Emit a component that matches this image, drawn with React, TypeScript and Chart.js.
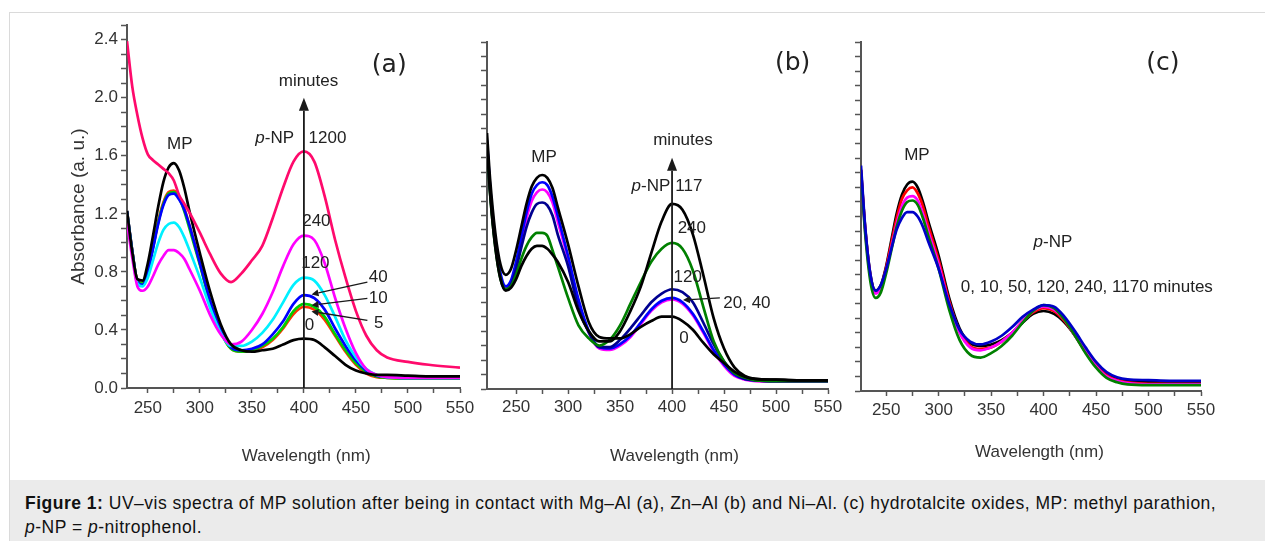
import React, { useEffect, useRef } from 'react';
import { Chart, registerables } from 'chart.js';

Chart.register(...registerables);

const FONT = "'Liberation Sans', Arial, Helvetica, sans-serif";
const LABEL_FONT = "'DejaVu Sans', 'Open Sans', sans-serif";

// ---------- Panel (a): Mg–Al ----------
const WL_A = [230, 235, 240, 245, 250, 255, 260, 265, 270, 275, 280, 285, 290, 300, 310, 320, 330, 340, 350, 360, 370, 380, 390, 400, 410, 420, 430, 440, 450, 460, 470, 480, 500, 520, 550];
const A_0MIN = [1.22, 0.94, 0.75, 0.74, 0.86, 1.05, 1.25, 1.42, 1.52, 1.55, 1.50, 1.38, 1.22, 0.93, 0.66, 0.44, 0.30, 0.26, 0.25, 0.26, 0.27, 0.30, 0.33, 0.34, 0.33, 0.28, 0.22, 0.16, 0.12, 0.10, 0.09, 0.09, 0.085, 0.08, 0.08];
const A_5MIN = [1.22, 0.95, 0.74, 0.72, 0.81, 0.97, 1.15, 1.28, 1.35, 1.36, 1.32, 1.24, 1.12, 0.86, 0.59, 0.39, 0.27, 0.25, 0.26, 0.28, 0.33, 0.41, 0.51, 0.56, 0.54, 0.47, 0.36, 0.25, 0.16, 0.10, 0.075, 0.07, 0.065, 0.065, 0.065];
const A_10MIN = [1.22, 0.95, 0.74, 0.72, 0.81, 0.97, 1.14, 1.27, 1.34, 1.35, 1.31, 1.22, 1.10, 0.85, 0.59, 0.39, 0.27, 0.25, 0.26, 0.29, 0.34, 0.42, 0.53, 0.58, 0.56, 0.49, 0.37, 0.26, 0.17, 0.11, 0.08, 0.07, 0.065, 0.065, 0.065];
const A_40MIN = [1.22, 0.95, 0.73, 0.71, 0.80, 0.96, 1.13, 1.26, 1.33, 1.34, 1.30, 1.23, 1.12, 0.86, 0.60, 0.40, 0.28, 0.26, 0.27, 0.30, 0.37, 0.46, 0.58, 0.64, 0.62, 0.54, 0.41, 0.29, 0.19, 0.12, 0.085, 0.075, 0.07, 0.07, 0.07];
const A_120MIN = [1.20, 0.93, 0.72, 0.70, 0.76, 0.88, 1.00, 1.09, 1.13, 1.14, 1.11, 1.04, 0.95, 0.76, 0.55, 0.38, 0.29, 0.29, 0.32, 0.38, 0.47, 0.59, 0.71, 0.76, 0.74, 0.64, 0.49, 0.33, 0.21, 0.13, 0.09, 0.075, 0.07, 0.07, 0.07];
const A_240MIN = [1.14, 0.90, 0.70, 0.67, 0.70, 0.77, 0.85, 0.91, 0.95, 0.95, 0.93, 0.89, 0.82, 0.67, 0.50, 0.37, 0.30, 0.32, 0.40, 0.51, 0.66, 0.84, 0.99, 1.05, 1.02, 0.86, 0.62, 0.41, 0.24, 0.13, 0.09, 0.075, 0.07, 0.07, 0.07];
const A_1200MIN = [2.39, 2.08, 1.88, 1.72, 1.61, 1.57, 1.54, 1.51, 1.48, 1.43, 1.33, 1.27, 1.21, 1.07, 0.92, 0.79, 0.73, 0.79, 0.88, 0.98, 1.17, 1.38, 1.56, 1.63, 1.56, 1.32, 1.02, 0.76, 0.53, 0.36, 0.26, 0.21, 0.18, 0.16, 0.14];

// ---------- Panel (b): Zn–Al ----------
const WL_B = [222, 225, 230, 235, 240, 245, 250, 255, 260, 265, 270, 275, 280, 285, 290, 300, 310, 320, 330, 340, 350, 360, 370, 380, 390, 400, 410, 420, 430, 440, 450, 460, 470, 480, 500, 520, 550];
const B_0MIN = [1.77, 1.45, 1.08, 0.86, 0.79, 0.83, 0.96, 1.12, 1.28, 1.40, 1.46, 1.48, 1.46, 1.39, 1.26, 1.00, 0.71, 0.46, 0.36, 0.35, 0.35, 0.38, 0.43, 0.47, 0.50, 0.50, 0.47, 0.41, 0.32, 0.24, 0.18, 0.12, 0.085, 0.07, 0.065, 0.06, 0.06];
const B_20MIN = [1.72, 1.40, 1.03, 0.80, 0.71, 0.75, 0.88, 1.05, 1.22, 1.35, 1.41, 1.43, 1.41, 1.33, 1.20, 0.92, 0.62, 0.40, 0.29, 0.28, 0.31, 0.37, 0.46, 0.55, 0.61, 0.63, 0.60, 0.52, 0.40, 0.27, 0.17, 0.10, 0.07, 0.06, 0.055, 0.055, 0.055];
const B_40MIN = [1.70, 1.38, 1.01, 0.78, 0.70, 0.73, 0.86, 1.02, 1.18, 1.30, 1.36, 1.38, 1.36, 1.29, 1.16, 0.90, 0.60, 0.39, 0.28, 0.27, 0.30, 0.36, 0.45, 0.54, 0.60, 0.62, 0.59, 0.51, 0.39, 0.26, 0.16, 0.09, 0.065, 0.055, 0.05, 0.05, 0.05];
const B_120MIN = [1.70, 1.37, 1.00, 0.77, 0.69, 0.72, 0.83, 0.98, 1.12, 1.22, 1.28, 1.29, 1.27, 1.20, 1.07, 0.85, 0.56, 0.39, 0.29, 0.29, 0.34, 0.42, 0.51, 0.60, 0.66, 0.69, 0.67, 0.60, 0.46, 0.31, 0.19, 0.11, 0.07, 0.06, 0.055, 0.055, 0.055];
const B_240MIN = [1.68, 1.35, 0.98, 0.76, 0.69, 0.71, 0.79, 0.90, 0.99, 1.05, 1.08, 1.08, 1.06, 0.96, 0.85, 0.63, 0.44, 0.35, 0.30, 0.34, 0.44, 0.59, 0.74, 0.88, 0.97, 1.01, 0.97, 0.82, 0.57, 0.33, 0.19, 0.11, 0.08, 0.06, 0.055, 0.055, 0.055];
const B_1170MIN = [1.68, 1.35, 0.98, 0.76, 0.68, 0.70, 0.76, 0.85, 0.92, 0.97, 0.99, 0.99, 0.97, 0.93, 0.88, 0.74, 0.54, 0.40, 0.33, 0.33, 0.40, 0.54, 0.71, 0.94, 1.16, 1.28, 1.24, 1.07, 0.79, 0.49, 0.28, 0.15, 0.09, 0.07, 0.065, 0.06, 0.06];

// ---------- Panel (c): Ni–Al ----------
const WL_C = [226, 230, 235, 240, 245, 250, 255, 260, 265, 270, 275, 280, 285, 290, 300, 310, 320, 330, 340, 350, 360, 370, 380, 390, 400, 410, 420, 430, 440, 450, 460, 470, 480, 500, 520, 550];
const C_0MIN = [1.52, 1.12, 0.80, 0.69, 0.73, 0.86, 1.04, 1.22, 1.35, 1.42, 1.44, 1.40, 1.30, 1.17, 0.93, 0.64, 0.43, 0.33, 0.31, 0.32, 0.35, 0.40, 0.47, 0.53, 0.55, 0.53, 0.47, 0.38, 0.27, 0.18, 0.12, 0.085, 0.07, 0.06, 0.06, 0.055];
const C_10MIN = [1.52, 1.12, 0.79, 0.68, 0.72, 0.85, 1.02, 1.19, 1.32, 1.38, 1.40, 1.36, 1.27, 1.14, 0.90, 0.62, 0.41, 0.31, 0.29, 0.30, 0.34, 0.40, 0.48, 0.54, 0.57, 0.55, 0.48, 0.38, 0.27, 0.18, 0.11, 0.075, 0.06, 0.05, 0.05, 0.05];
const C_50MIN = [1.50, 1.10, 0.78, 0.67, 0.71, 0.83, 0.99, 1.15, 1.27, 1.33, 1.34, 1.31, 1.22, 1.10, 0.87, 0.60, 0.40, 0.30, 0.28, 0.30, 0.34, 0.40, 0.48, 0.55, 0.58, 0.56, 0.49, 0.38, 0.27, 0.17, 0.10, 0.07, 0.055, 0.045, 0.045, 0.045];
const C_120MIN = [1.50, 1.08, 0.75, 0.64, 0.68, 0.81, 0.97, 1.13, 1.24, 1.30, 1.31, 1.28, 1.19, 1.07, 0.84, 0.56, 0.35, 0.25, 0.23, 0.26, 0.31, 0.38, 0.47, 0.55, 0.59, 0.57, 0.49, 0.38, 0.26, 0.16, 0.09, 0.06, 0.045, 0.04, 0.04, 0.04];
const C_1170MIN = [1.55, 1.13, 0.80, 0.69, 0.73, 0.84, 0.98, 1.11, 1.19, 1.23, 1.23, 1.20, 1.13, 1.03, 0.84, 0.60, 0.42, 0.34, 0.32, 0.34, 0.38, 0.44, 0.51, 0.56, 0.59, 0.58, 0.51, 0.41, 0.30, 0.20, 0.13, 0.095, 0.08, 0.075, 0.07, 0.07];

// ---------- Axes ----------
const X_TICKS = [250, 275, 300, 325, 350, 375, 400, 425, 450, 475, 500, 525, 550];
const X_LABELS = ['250', '300', '350', '400', '450', '500', '550'];
const Y_TICKS_A = [0, 0.1, 0.2, 0.3, 0.4, 0.5, 0.6, 0.7, 0.8, 0.9, 1.0, 1.1, 1.2, 1.3, 1.4, 1.5, 1.6, 1.7, 1.8, 1.9, 2.0, 2.1, 2.2, 2.3, 2.4, 2.5];
const Y_TICKS_BC = [0, 0.1, 0.2, 0.3, 0.4, 0.5, 0.6, 0.7, 0.8, 0.9, 1.0, 1.1, 1.2, 1.3, 1.4, 1.5, 1.6, 1.7, 1.8, 1.9, 2.0, 2.1, 2.2, 2.3, 2.4];
const Y_LABELS_A = ['0.0', '0.4', '0.8', '1.2', '1.6', '2.0', '2.4'];

type Seg = { t: string; it?: boolean };
type Note = { x: number; y: number; segs: Seg[]; size?: number; family?: string };
type Arrow = { x1: number; y1: number; x2: number; y2: number; head: number; hw: number; lw: number };

function annotate(notes: Note[], arrows: Arrow[]) {
  return {
    id: 'figNotes',
    afterDatasetsDraw(chart: any) {
      const ctx = chart.ctx;
      const sx = chart.scales.x;
      const sy = chart.scales.y;
      ctx.save();
      ctx.fillStyle = '#1a1a1a';
      ctx.strokeStyle = '#1a1a1a';
      for (const a of arrows) {
        const x1 = sx.getPixelForValue(a.x1), y1 = sy.getPixelForValue(a.y1);
        const x2 = sx.getPixelForValue(a.x2), y2 = sy.getPixelForValue(a.y2);
        const ang = Math.atan2(y2 - y1, x2 - x1);
        const bx = x2 - Math.cos(ang) * a.head, by = y2 - Math.sin(ang) * a.head;
        ctx.lineWidth = a.lw;
        ctx.beginPath();
        ctx.moveTo(x1, y1);
        ctx.lineTo(bx, by);
        ctx.stroke();
        ctx.beginPath();
        ctx.moveTo(x2, y2);
        ctx.lineTo(bx + Math.sin(ang) * a.hw, by - Math.cos(ang) * a.hw);
        ctx.lineTo(bx - Math.sin(ang) * a.hw, by + Math.cos(ang) * a.hw);
        ctx.closePath();
        ctx.fill();
      }
      ctx.textBaseline = 'middle';
      ctx.textAlign = 'left';
      ctx.fillStyle = '#222';
      for (const n of notes) {
        const size = n.size ?? 17;
        const fam = n.family ?? FONT;
        const fonts = n.segs.map((s) => `${s.it ? 'italic ' : ''}${size}px ${fam}`);
        let w = 0;
        const ws = n.segs.map((s, i) => {
          ctx.font = fonts[i];
          const m = ctx.measureText(s.t).width;
          w += m;
          return m;
        });
        let x = sx.getPixelForValue(n.x) - w / 2;
        const y = sy.getPixelForValue(n.y);
        n.segs.forEach((s, i) => {
          ctx.font = fonts[i];
          ctx.fillText(s.t, x, y);
          x += ws[i];
        });
      }
      ctx.restore();
    },
  };
}

type PanelCfg = {
  wl: number[];
  series: { label: string; data: number[]; color: string }[];
  xMin: number;
  yMax: number;
  yTicks: number[];
  yLabels: string[];
  yTitle?: string;
  xTitle: string;
  yWidth: number;
  xHeight: number;
  pad: { left: number; right: number; top: number; bottom: number };
  xTickPad: number;
  xTitlePad: number;
  notes: Note[];
  arrows: Arrow[];
};

function build(canvas: HTMLCanvasElement, p: PanelCfg) {
  const tickFont = { family: FONT, size: 17 };
  return new Chart(canvas, {
    type: 'line',
    data: {
      datasets: p.series.map((s) => ({
        label: s.label,
        data: p.wl.map((x, i) => ({ x, y: s.data[i] })),
        borderColor: s.color,
        backgroundColor: s.color,
        borderWidth: 2.7,
        pointRadius: 0,
        cubicInterpolationMode: 'monotone' as const,
        fill: false,
      })),
    },
    options: {
      responsive: false,
      animation: false,
      devicePixelRatio: 1,
      events: [],
      layout: { padding: p.pad },
      plugins: { legend: { display: false }, tooltip: { enabled: false } },
      scales: {
        x: {
          type: 'linear',
          min: p.xMin,
          max: 550,
          afterBuildTicks: (s: any) => {
            s.ticks = X_TICKS.map((v) => ({ value: v }));
          },
          afterFit: (s: any) => {
            s.height = p.xHeight;
          },
          grid: { display: true, drawOnChartArea: false, drawTicks: true, tickLength: 5, tickColor: '#555', tickWidth: 1.5 },
          border: { display: true, color: '#555', width: 2 },
          ticks: {
            autoSkip: false,
            maxRotation: 0,
            padding: p.xTickPad,
            color: '#333',
            font: tickFont,
            callback: (v: any) => (X_LABELS.includes(String(v)) ? String(v) : ''),
          },
          title: {
            display: true,
            text: p.xTitle,
            color: '#333',
            font: { family: FONT, size: 17 },
            padding: { top: 0, bottom: p.xTitlePad },
          },
        },
        y: {
          type: 'linear',
          min: 0,
          max: p.yMax,
          afterBuildTicks: (s: any) => {
            s.ticks = p.yTicks.map((v) => ({ value: v }));
          },
          afterFit: (s: any) => {
            s.width = p.yWidth;
          },
          grid: { display: true, drawOnChartArea: false, drawTicks: true, tickLength: 6, tickColor: '#555', tickWidth: 1.5 },
          border: { display: true, color: '#555', width: 2 },
          ticks: {
            autoSkip: false,
            padding: 3,
            color: '#333',
            font: tickFont,
            callback: (v: any) => {
              const t = Number(v).toFixed(1);
              return p.yLabels.includes(t) ? t : '';
            },
          },
          title: {
            display: !!p.yTitle,
            text: p.yTitle ?? '',
            color: '#333',
            font: { family: FONT, size: 19 },
            padding: { top: 47, bottom: 0 },
          },
        },
      },
    },
    plugins: [annotate(p.notes, p.arrows)],
  } as any);
}

const PANEL_A: PanelCfg = {
  wl: WL_A,
  series: [
    { label: '1200 min', data: A_1200MIN, color: '#ff0a6c' },
    { label: '0 min', data: A_0MIN, color: '#000000' },
    { label: '240 min', data: A_240MIN, color: '#ff00ff' },
    { label: '120 min', data: A_120MIN, color: '#00f0ff' },
    { label: '40 min', data: A_40MIN, color: '#0000ff' },
    { label: '10 min', data: A_10MIN, color: '#00d000' },
    { label: '5 min', data: A_5MIN, color: '#ff3300' },
  ],
  xMin: 230,
  yMax: 2.5,
  yTicks: Y_TICKS_A,
  yLabels: Y_LABELS_A,
  yTitle: 'Absorbance (a. u.)',
  xTitle: '\u2002\u2002\u2002Wavelength (nm)',
  yWidth: 107,
  xHeight: 92,
  pad: { left: 0, right: 30, top: 12, bottom: 0 },
  xTickPad: 5,
  xTitlePad: 13,
  notes: [
    { x: 482, y: 2.22, segs: [{ t: '(a)' }], size: 25, family: LABEL_FONT },
    { x: 280.8, y: 1.68, segs: [{ t: 'MP' }] },
    { x: 404.4, y: 2.11, segs: [{ t: 'minutes' }] },
    { x: 371.9, y: 1.72, segs: [{ t: 'p', it: true }, { t: '-NP' }] },
    { x: 422.7, y: 1.72, segs: [{ t: '1200' }] },
    { x: 412, y: 1.15, segs: [{ t: '240' }] },
    { x: 411, y: 0.86, segs: [{ t: '120' }] },
    { x: 471.5, y: 0.76, segs: [{ t: '40' }] },
    { x: 471.5, y: 0.62, segs: [{ t: '10' }] },
    { x: 472, y: 0.445, segs: [{ t: '5' }] },
    { x: 405.4, y: 0.43, segs: [{ t: '0' }] },
  ],
  arrows: [
    { x1: 400, y1: 0, x2: 400, y2: 2.0, head: 13, hw: 5, lw: 1.8 },
    { x1: 461, y1: 0.73, x2: 407.3, y2: 0.645, head: 7, hw: 3.5, lw: 1.3 },
    { x1: 461, y1: 0.617, x2: 407.3, y2: 0.57, head: 7, hw: 3.5, lw: 1.3 },
    { x1: 461, y1: 0.466, x2: 407.3, y2: 0.528, head: 7, hw: 3.5, lw: 1.3 },
  ],
};

const PANEL_B: PanelCfg = {
  wl: WL_B,
  series: [
    { label: '1170 min', data: B_1170MIN, color: '#000000' },
    { label: '0 min', data: B_0MIN, color: '#000000' },
    { label: '240 min', data: B_240MIN, color: '#008000' },
    { label: '120 min', data: B_120MIN, color: '#000090' },
    { label: '20 min', data: B_20MIN, color: '#0000ff' },
    { label: '40 min', data: B_40MIN, color: '#ff00ff' },
  ],
  xMin: 222,
  yMax: 2.4,
  yTicks: Y_TICKS_BC,
  yLabels: [],
  xTitle: '\u2002\u2002\u2002\u2002Wavelength (nm)',
  yWidth: 7,
  xHeight: 91,
  pad: { left: 0, right: 22, top: 30, bottom: 0 },
  xTickPad: 3,
  xTitlePad: 13,
  notes: [
    { x: 516, y: 2.25, segs: [{ t: '(b)' }], size: 25, family: LABEL_FONT },
    { x: 276.8, y: 1.6, segs: [{ t: 'MP' }] },
    { x: 410.5, y: 1.72, segs: [{ t: 'minutes' }] },
    { x: 379.7, y: 1.4, segs: [{ t: 'p', it: true }, { t: '-NP' }] },
    { x: 416.2, y: 1.4, segs: [{ t: '117' }] },
    { x: 419, y: 1.11, segs: [{ t: '240' }] },
    { x: 415, y: 0.775, segs: [{ t: '120' }] },
    { x: 472, y: 0.595, segs: [{ t: '20, 40' }] },
    { x: 411.4, y: 0.353, segs: [{ t: '0' }] },
  ],
  arrows: [
    { x1: 400, y1: 0, x2: 400, y2: 1.6, head: 13, hw: 5, lw: 1.8 },
    { x1: 446, y1: 0.63, x2: 410.5, y2: 0.615, head: 7, hw: 3.5, lw: 1.3 },
  ],
};

const PANEL_C: PanelCfg = {
  wl: WL_C,
  series: [
    { label: '1170 min', data: C_1170MIN, color: '#0000c8' },
    { label: '120 min', data: C_120MIN, color: '#008000' },
    { label: '50 min', data: C_50MIN, color: '#ff00ff' },
    { label: '10 min', data: C_10MIN, color: '#ff0000' },
    { label: '0 min', data: C_0MIN, color: '#000000' },
  ],
  xMin: 226,
  yMax: 2.4,
  yTicks: Y_TICKS_BC,
  yLabels: [],
  xTitle: '\u2002\u2002Wavelength (nm)',
  yWidth: 11,
  xHeight: 89,
  pad: { left: 0, right: 29, top: 30, bottom: 0 },
  xTickPad: 4,
  xTitlePad: 17,
  notes: [
    { x: 513.6, y: 2.25, segs: [{ t: '(c)' }], size: 25, family: LABEL_FONT },
    { x: 279.3, y: 1.62, segs: [{ t: 'MP' }] },
    { x: 408.9, y: 1.02, segs: [{ t: 'p', it: true }, { t: '-NP' }] },
    { x: 441.2, y: 0.715, segs: [{ t: '0, 10, 50, 120, 240, 1170 minutes' }] },
  ],
  arrows: [],
};

export default function App() {
  const refA = useRef<HTMLCanvasElement>(null);
  const refB = useRef<HTMLCanvasElement>(null);
  const refC = useRef<HTMLCanvasElement>(null);

  useEffect(() => {
    Chart.defaults.font.family = FONT;
    const charts = [
      build(refA.current!, PANEL_A),
      build(refB.current!, PANEL_B),
      build(refC.current!, PANEL_C),
    ];
    return () => charts.forEach((c) => c.destroy());
  }, []);

  const canvasStyle = (left: number, width: number): React.CSSProperties => ({
    position: 'absolute',
    left,
    top: 12,
    width,
    height: 468,
  });

  return (
    <div style={{ position: 'fixed', left: 0, top: 0, width: 1265, height: 541, background: '#fff', overflow: 'hidden' }}>
      <div style={{ position: 'absolute', left: 9, top: 12, right: -2, bottom: -2, borderLeft: '1px solid #dadada', borderTop: '1px solid #dadada' }} />
      <canvas ref={refA} width={470} height={468} style={canvasStyle(20, 470)} />
      <canvas ref={refB} width={370} height={468} style={canvasStyle(480, 370)} />
      <canvas ref={refC} width={380} height={468} style={canvasStyle(850, 380)} />
      <div
        style={{
          position: 'absolute',
          left: 10,
          top: 480,
          width: 1255,
          height: 61,
          background: '#ebebeb',
          boxSizing: 'border-box',
          padding: '11px 0 0 15px',
          font: `17.5px/24px ${FONT}`,
          letterSpacing: '0.5px',
          color: '#111',
          whiteSpace: 'nowrap',
        }}
      >
        <b>Figure 1:</b> UV–vis spectra of MP solution after being in contact with Mg–Al (a), Zn–Al (b) and Ni–Al. (c) hydrotalcite oxides, MP: methyl parathion,
        <br />
        <i>p</i>-NP = <i>p</i>-nitrophenol.
      </div>
    </div>
  );
}
